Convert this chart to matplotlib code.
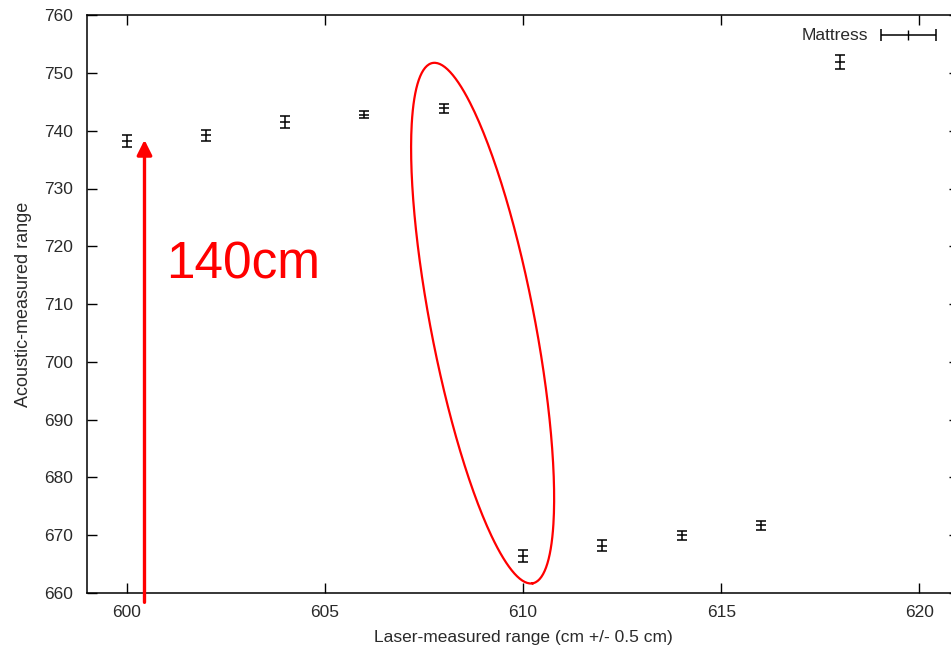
import numpy as np
import matplotlib
matplotlib.use('Agg')
import matplotlib.pyplot as plt

plt.rcParams['font.family'] = ['Liberation Sans', 'DejaVu Sans']

# Laser vs acoustic range readings (mattress target)
laser_cm = [600, 602, 604, 606, 608, 610, 612, 614, 616, 618]
acoustic_cm = [738.2, 739.2, 741.5, 742.8, 743.9, 666.4, 668.2, 670.0, 671.7, 751.9]
acoustic_err = [1.0, 1.0, 1.0, 0.6, 0.8, 1.1, 0.95, 0.8, 0.78, 1.2]

x_ticks = [600, 605, 610, 615, 620]
y_ticks = list(range(660, 761, 10))

fig = plt.figure(figsize=(9.51, 6.5), dpi=100)
ax = fig.add_axes([0.0915, 0.0877, 0.917, 0.889])

txt = '#2a2a2a'
ax.errorbar(laser_cm, acoustic_cm, yerr=acoustic_err, fmt='_', color='black',
            ecolor='black', elinewidth=1.1, capsize=3.4, capthick=1.1,
            markersize=7, markeredgewidth=1.1)

ax.set_xlim(599, 621)
ax.set_ylim(660, 760)
ax.set_xticks(x_ticks)
ax.set_yticks(y_ticks)
ax.tick_params(direction='in', length=7, width=1, top=True, right=True,
               labelsize=12.5, labelcolor=txt)
ax.tick_params(axis='y', pad=10)
ax.tick_params(axis='x', pad=9)
for s in ax.spines.values():
    s.set_linewidth(1.1)

ax.set_xlabel('Laser-measured range (cm +/- 0.5 cm)', fontsize=12.5, color=txt, labelpad=7)
ax.set_ylabel('Acoustic-measured range', fontsize=13, color=txt, labelpad=9)

# key, gnuplot style
ax.text(0.896, 0.965, 'Mattress', transform=ax.transAxes, ha='right', va='center',
        fontsize=12.5, color=txt)
ax.errorbar([0.9415], [0.965], xerr=[0.0315], fmt='|', color='black',
            elinewidth=1.1, capsize=4, capthick=1.1, markersize=7,
            transform=ax.transAxes, clip_on=False)

# red annotations
ax.annotate('', xy=(600.45, 738.9), xytext=(600.45, 657.9),
            arrowprops=dict(arrowstyle='-|>,head_width=0.45,head_length=0.9',
                            color='red', lw=2.4), annotation_clip=False)
ax.text(601.0, 716.7, '140cm', color='red', fontsize=37,
        va='center', ha='left')

# tilted ellipse around the jump (built in pixel units, mapped to data)
px_x, px_y = 39.65, 5.78
cx, cy = 608.98, 706.7
a, b, th = 265.0, 52.0, np.deg2rad(10.9)
t = np.linspace(0, 2 * np.pi, 300)
ex = a * np.cos(t) * np.sin(th) + b * np.sin(t) * np.cos(th)
ey = -a * np.cos(t) * np.cos(th) + b * np.sin(t) * np.sin(th)
ax.plot(cx + ex / px_x, cy + ey / px_y, color='red', lw=1.6, clip_on=False)

fig.savefig('out.png', dpi=100)
